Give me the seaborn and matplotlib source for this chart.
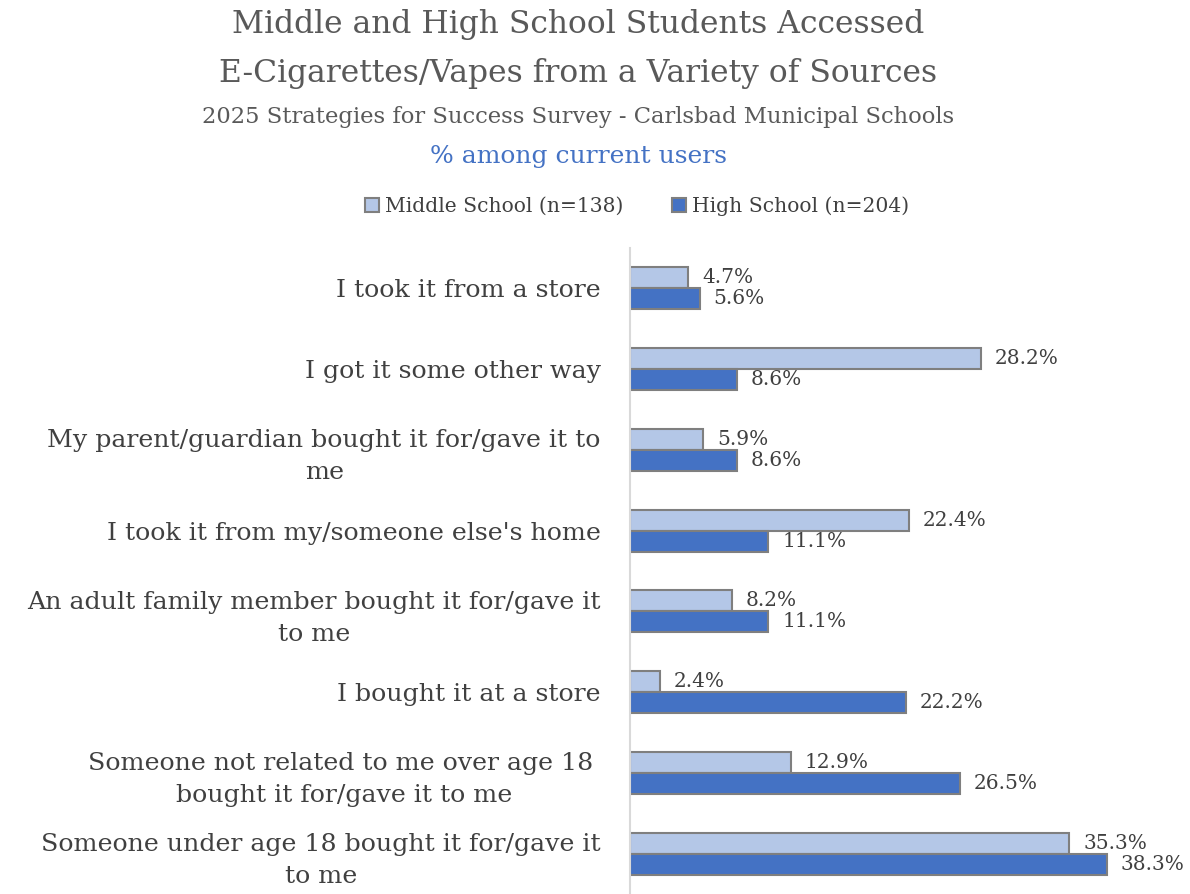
import matplotlib
matplotlib.use("Agg")
import matplotlib.pyplot as plt
import seaborn as sns
import pandas as pd

categories = [
    "I took it from a store",
    "I got it some other way",
    "My parent/guardian bought it for/gave it to\nme",
    "I took it from my/someone else's home",
    "An adult family member bought it for/gave it\nto me",
    "I bought it at a store",
    "Someone not related to me over age 18 \nbought it for/gave it to me",
    "Someone under age 18 bought it for/gave it\nto me",
]
middle_school = [4.7, 28.2, 5.9, 22.4, 8.2, 2.4, 12.9, 35.3]
high_school = [5.6, 8.6, 8.6, 11.1, 11.1, 22.2, 26.5, 38.3]
series_names = ["Middle School (n=138)", "High School (n=204)"]

df = pd.DataFrame({
    "source": categories * 2,
    "pct": middle_school + high_school,
    "group": [series_names[0]] * len(categories) + [series_names[1]] * len(categories),
})

sns.set_theme(style="white")
plt.rcParams["font.family"] = ["DejaVu Serif"]
text_color = "#404040"

fig = plt.figure(figsize=(11.9, 8.94), dpi=100)
ax = fig.add_axes([630 / 1190, 0.0, 1 - 630 / 1190, (894 - 248) / 894])

sns.barplot(
    data=df, y="source", x="pct", hue="group", order=categories,
    hue_order=series_names, palette=["#B4C7E7", "#4472C4"], saturation=1,
    orient="h", width=0.52, gap=0, edgecolor="#7F7F7F", linewidth=1.5,
    ax=ax, legend=True,
)

ax.set_xlim(0, 45)
ax.set_ylim(len(categories) - 0.5, -0.5)
ax.set_xlabel("")
ax.set_ylabel("")
ax.set_xticks([])
for s in ["top", "right", "bottom"]:
    ax.spines[s].set_visible(False)
ax.spines["left"].set_color("#D9D9D9")
ax.spines["left"].set_linewidth(1.5)

ax.tick_params(axis="y", length=0, pad=21, labelsize=18.2, labelcolor=text_color)
for lbl in ax.get_yticklabels():
    lbl.set_multialignment("center")
    lbl.set_linespacing(1.5)

for cont in ax.containers:
    ax.bar_label(cont, labels=[f"{v:.1f}%" for v in cont.datavalues],
                 padding=10, fontsize=14.5, color=text_color)

handles, labels = ax.get_legend_handles_labels()
ax.get_legend().remove()
fig.legend(handles, labels, loc="center", bbox_to_anchor=(637 / 1190, 1 - 206 / 894),
           ncol=2, frameon=False, fontsize=14.6, handlelength=0.7, handleheight=0.7,
           handletextpad=0.3, columnspacing=2.4, labelcolor=text_color)

fig.text(578 / 1190, 1 - 49 / 894,
         "Middle and High School Students Accessed\nE-Cigarettes/Vapes from a Variety of Sources",
         ha="center", va="center", fontsize=22.6, color="#595959", linespacing=1.75)
fig.text(578 / 1190, 1 - 117 / 894,
         "2025 Strategies for Success Survey - Carlsbad Municipal Schools",
         ha="center", va="center", fontsize=16.3, color="#595959")
fig.text(578 / 1190, 1 - 156 / 894, "% among current users",
         ha="center", va="center", fontsize=18, color="#4472C4")

fig.savefig("out.png", dpi=100)
